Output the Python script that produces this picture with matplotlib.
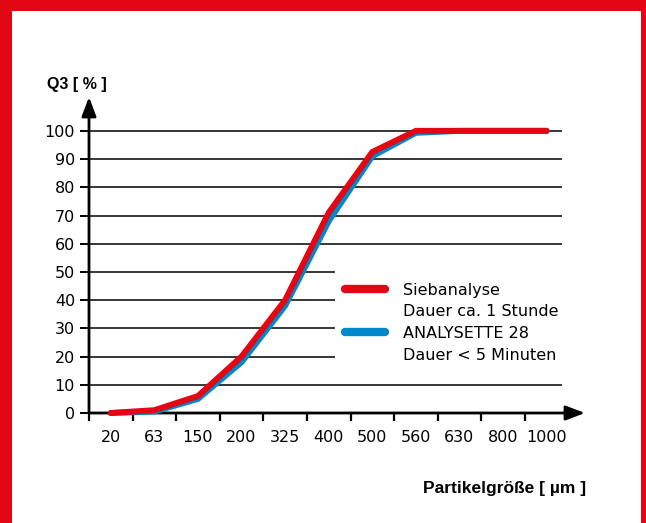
import matplotlib.pyplot as plt
import numpy as np
from matplotlib.lines import Line2D
from matplotlib.patches import Rectangle

plt.rcParams['font.family'] = ['DejaVu Sans']

# particle size classes [um]
sizes = ['20', '63', '150', '200', '325', '400', '500', '560', '630', '800', '1000']
# Q3 [%]
siebanalyse = [0, 1, 6, 20, 40, 71, 92.5, 100, 100, 100, 100]
analysette = [0, 0.5, 5, 18, 38, 68, 91, 99.3, 100, 100, 100]
yticks = list(range(0, 101, 10))

RED = '#e30613'
BLUE = '#0088cc'
W, H = 646, 523
FS = 11.5

fig = plt.figure(figsize=(W / 100, H / 100), dpi=100)
ax = fig.add_axes([89 / W, 110 / H, 496 / W, 316 / H])
x = np.arange(len(sizes))
ax.set_xlim(-0.5, 10.88)
ax.set_ylim(0, 112)
for s in ax.spines.values():
    s.set_visible(False)

# axes with arrow heads
arrow = dict(arrowstyle='-|>,head_length=0.58,head_width=0.22', lw=2,
             color='k', shrinkA=0, shrinkB=0, mutation_scale=20)
ax.annotate('', xy=(1, 0), xytext=(0, 0), xycoords='axes fraction',
            arrowprops=arrow, annotation_clip=False)
ax.annotate('', xy=(0, 1), xytext=(0, 0), xycoords='axes fraction',
            arrowprops=arrow, annotation_clip=False)

# grid, shortened where the legend sits
for v in yticks[1:]:
    end = 5.14 if 20 <= v <= 50 else 10.35
    ax.hlines(v, -0.5, end, color='k', lw=1.1, zorder=1)

ax.set_yticks(yticks)
ax.tick_params(axis='y', length=6.5, width=1.4, pad=3.5, labelsize=FS)
ax.set_xticks(x, sizes)
ax.tick_params(axis='x', which='major', length=0, pad=12, labelsize=FS)
ax.set_xticks(np.arange(-0.5, 10, 1), minor=True)
ax.tick_params(axis='x', which='minor', length=6, width=1.6)

ax.plot(x, analysette, color=BLUE, lw=4.3, solid_capstyle='round',
        solid_joinstyle='miter', clip_on=False, zorder=3)
ax.plot(x, siebanalyse, color=RED, lw=4.3, solid_capstyle='round',
        solid_joinstyle='miter', clip_on=False, zorder=4)

blank = Line2D([], [], color='none')
handles = [Line2D([], [], color=RED, lw=6, solid_capstyle='round'), blank,
           Line2D([], [], color=BLUE, lw=6, solid_capstyle='round'), blank]
labels = ['Siebanalyse', 'Dauer ca. 1 Stunde', 'ANALYSETTE 28', 'Dauer < 5 Minuten']
ax.legend(handles, labels, loc='upper left', bbox_to_anchor=(345 / W, 1 - 282.5 / H),
          bbox_transform=fig.transFigure, frameon=False, borderpad=0,
          borderaxespad=0, handlelength=2.5, handletextpad=1.13,
          labelspacing=0.42, fontsize=FS)

fig.text(47 / W, 1 - 85 / H, 'Q3 [ % ]', ha='left', va='center',
         weight='bold', size=11.5, family='Liberation Sans')
fig.text(586 / W, 1 - 488 / H, 'Partikelgröße [ µm ]', ha='right',
         va='center', weight='bold', size=12.5, family='Liberation Sans')

# red frame
for r in [(0, 0, 12, H), (0, H - 11, W, 11), (641, 0, 5, H)]:
    fig.patches.append(Rectangle((r[0] / W, r[1] / H), r[2] / W, r[3] / H,
                                 transform=fig.transFigure, color=RED, lw=0))

fig.savefig('out.png', dpi=100)
